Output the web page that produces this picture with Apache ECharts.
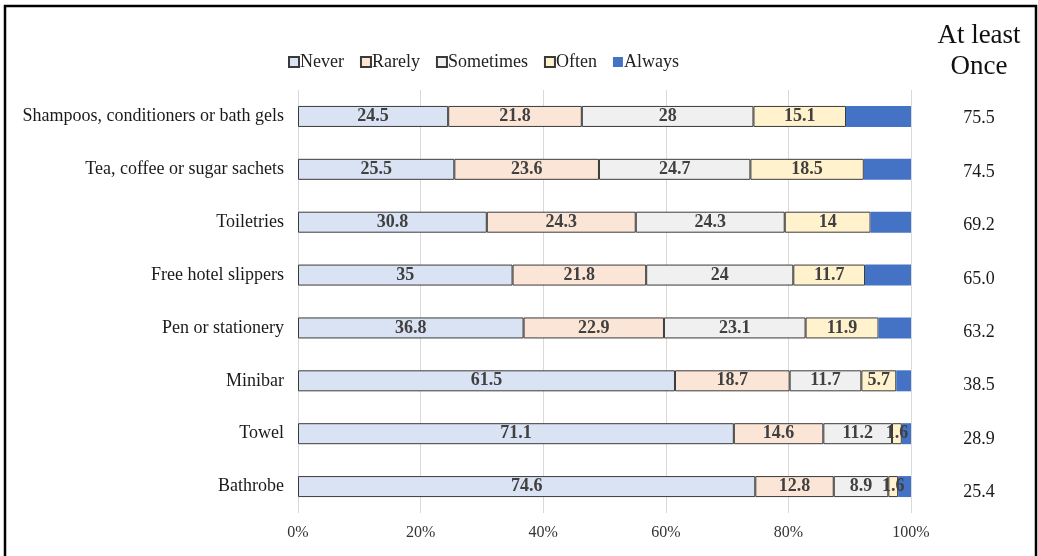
<!DOCTYPE html>
<html>
<head>
<meta charset="utf-8">
<script src="https://cdn.jsdelivr.net/npm/echarts@6/dist/echarts.min.js"></script>
<style>
  html, body { margin: 0; padding: 0; background: #fff; }
  #chart { width: 1038px; height: 556px; }
</style>
</head>
<body>
<div id="chart"></div>
<script>
// Hotel amenities taken home: share of respondents by frequency (%)
const categories = [
  'Shampoos, conditioners or bath gels',
  'Tea, coffee or sugar sachets',
  'Toiletries',
  'Free hotel slippers',
  'Pen or stationery',
  'Minibar',
  'Towel',
  'Bathrobe'
];
const never     = [24.5, 25.5, 30.8, 35, 36.8, 61.5, 71.1, 74.6];
const rarely    = [21.8, 23.6, 24.3, 21.8, 22.9, 18.7, 14.6, 12.8];
const sometimes = [28, 24.7, 24.3, 24, 23.1, 11.7, 11.2, 8.9];
const often     = [15.1, 18.5, 14, 11.7, 11.9, 5.7, 1.6, 1.6];
const always    = [10.6, 7.7, 6.6, 7.5, 5.3, 2.4, 1.5, 2.1];
const atLeastOnce = ['75.5', '74.5', '69.2', '65.0', '63.2', '38.5', '28.9', '25.4'];
const xTicks = [0, 20, 40, 60, 80, 100];

const serif = '"Liberation Serif", "DejaVu Serif", serif';

const chart = echarts.init(document.getElementById('chart'));

function segment(name, data, color, bordered, showLabel) {
  return {
    name: name,
    type: 'bar',
    stack: 'total',
    data: data,
    barWidth: 21,
    xAxisIndex: 0,
    yAxisIndex: 0,
    itemStyle: {
      color: color,
      borderColor: bordered ? '#3a3a3a' : color,
      borderWidth: bordered ? 1 : 0
    },
    label: {
      show: showLabel,
      position: 'inside',
      color: '#404040',
      fontFamily: serif,
      fontWeight: 'bold',
      fontSize: 18
    },
    emphasis: { disabled: true }
  };
}

chart.setOption({
  animation: false,
  backgroundColor: '#fff',
  graphic: [
    {
      type: 'rect',
      shape: { x: 5, y: 6, width: 1031, height: 560 },
      style: { fill: 'none', stroke: '#000', lineWidth: 2.5 },
      silent: true
    },
    {
      type: 'text',
      x: 979,
      y: 51,
      style: {
        text: 'At least\nOnce',
        fontFamily: serif,
        fontSize: 27,
        lineHeight: 31,
        fill: '#111',
        align: 'center',
        verticalAlign: 'middle'
      },
      silent: true
    }
  ],
  legend: {
    left: 283,
    top: 48,
    itemWidth: 10,
    itemHeight: 10,
    itemGap: 16,
    icon: 'rect',
    textStyle: {
      fontFamily: serif,
      fontSize: 18,
      color: '#222',
      padding: [0, 0, 0, -4]
    },
    selectedMode: false,
    data: ['Never', 'Rarely', 'Sometimes', 'Often', 'Always']
  },
  grid: [
    { left: 298, width: 613, top: 90, height: 423, containLabel: false },
    { left: 1030, width: 2, top: 92, height: 427, containLabel: false }
  ],
  xAxis: [
    {
      gridIndex: 0,
      type: 'value',
      min: 0,
      max: 100,
      interval: 20,
      axisLine: { show: false },
      axisTick: { show: false },
      splitLine: { show: true, lineStyle: { color: '#d9d9d9', width: 1 } },
      axisLabel: {
        formatter: function (v) { return xTicks.indexOf(v) >= 0 ? v + '%' : ''; },
        fontFamily: serif,
        fontSize: 16,
        color: '#333',
        margin: 12
      }
    },
    {
      gridIndex: 1,
      type: 'value',
      show: false
    }
  ],
  yAxis: [
    {
      gridIndex: 0,
      type: 'category',
      data: categories,
      inverse: true,
      axisLine: { show: false },
      axisTick: { show: false },
      axisLabel: {
        fontFamily: serif,
        fontSize: 18,
        color: '#1a1a1a',
        margin: 14
      }
    },
    {
      gridIndex: 1,
      type: 'category',
      data: atLeastOnce,
      inverse: true,
      axisLine: { show: false },
      axisTick: { show: false },
      axisLabel: {
        fontFamily: serif,
        fontSize: 18,
        color: '#1a1a1a',
        align: 'center',
        margin: 51
      }
    }
  ],
  series: [
    segment('Never', never, '#dae3f3', true, true),
    segment('Rarely', rarely, '#fbe5d6', true, true),
    segment('Sometimes', sometimes, '#f0f0f0', true, true),
    segment('Often', often, '#fff2cc', true, true),
    segment('Always', always, '#4472c4', false, false)
  ]
});
</script>
</body>
</html>
